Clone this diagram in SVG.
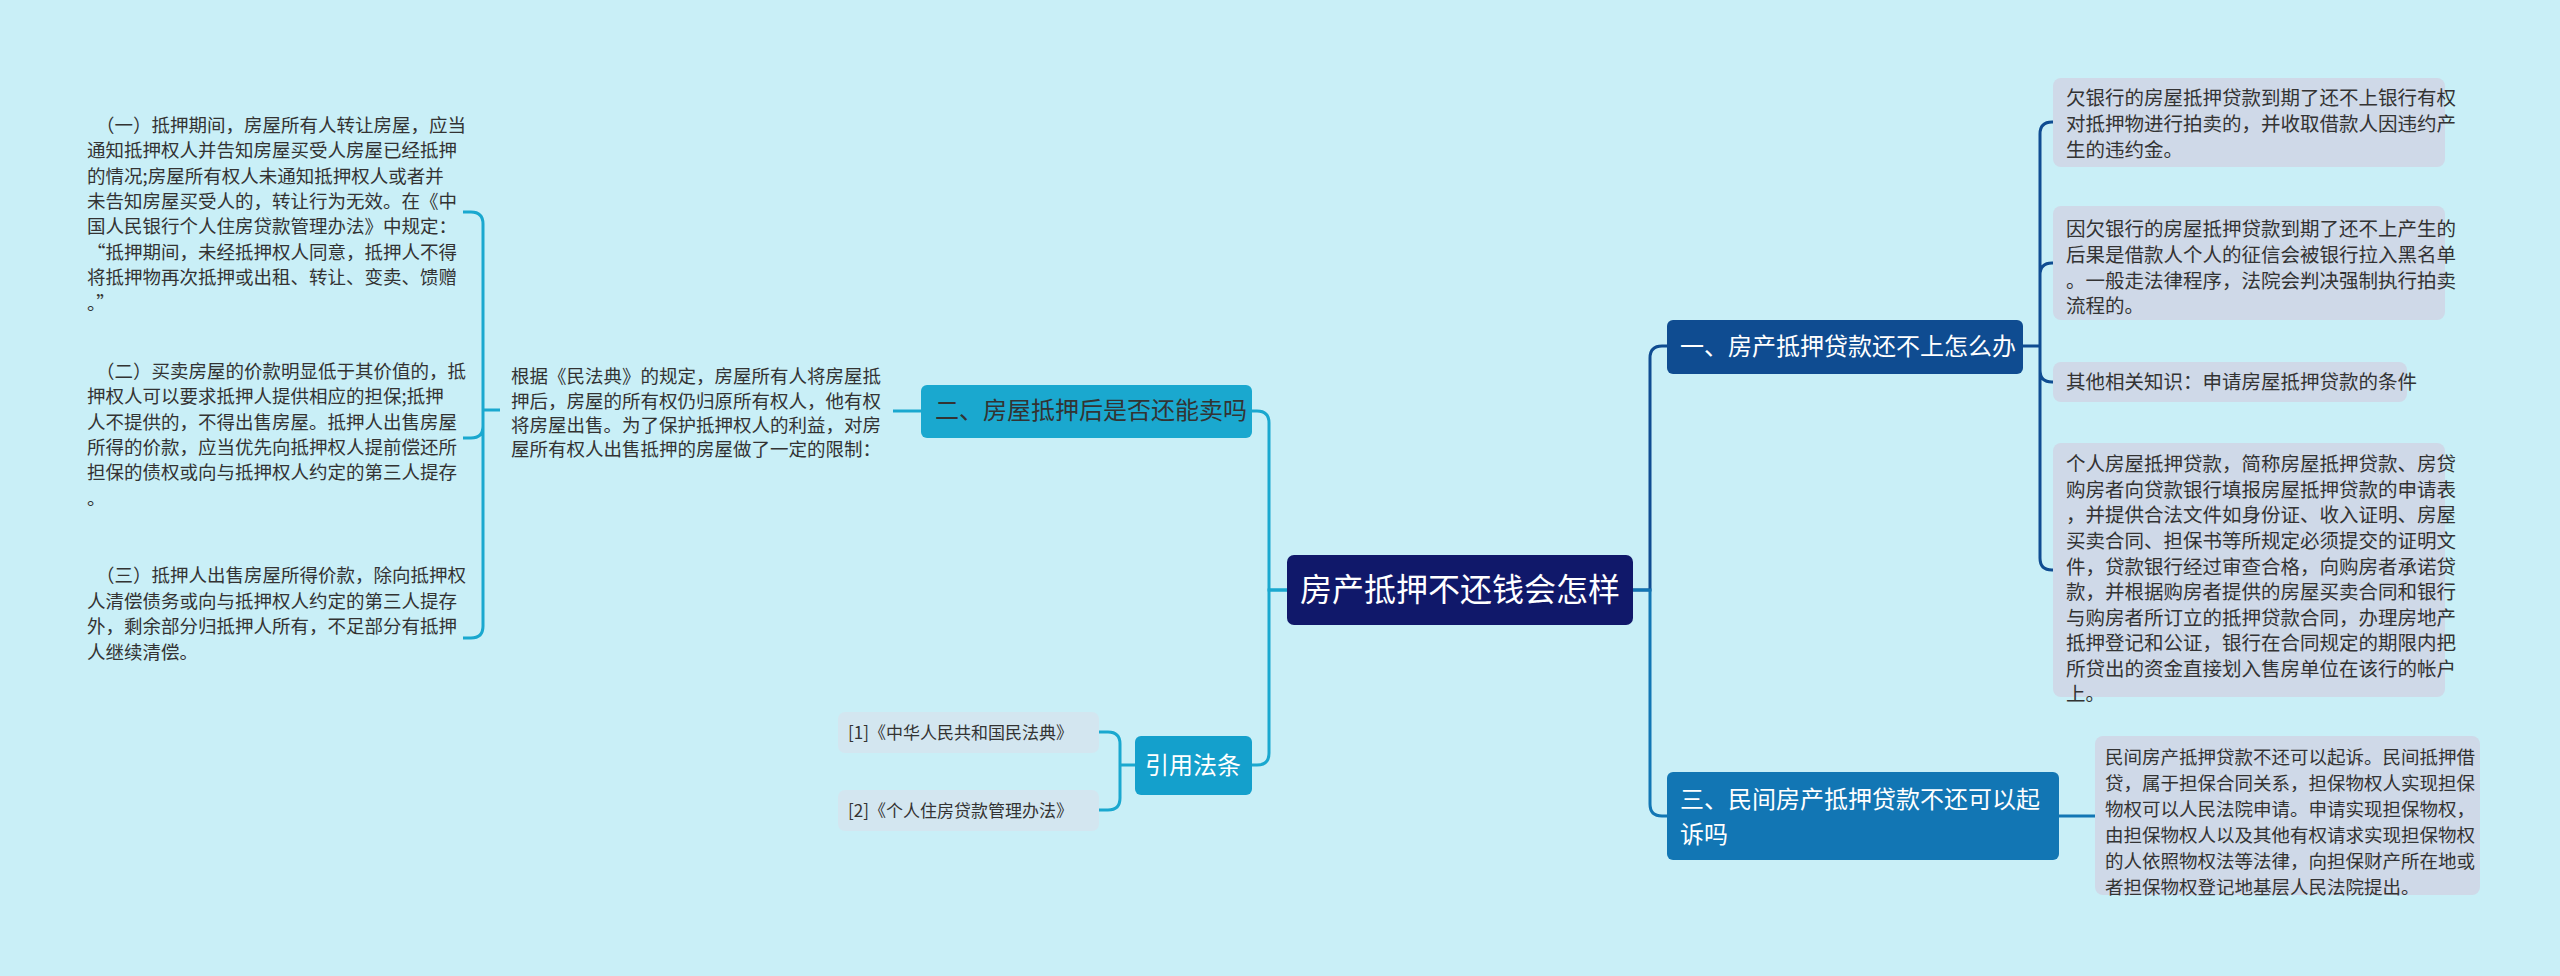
<svg xmlns="http://www.w3.org/2000/svg" width="2560" height="976" viewBox="0 0 2560 976">
<style>
text{font-family:"Noto Sans CJK SC","Noto Sans",sans-serif;fill:#333}
.lf{font-size:18.5px}
.rt{font-size:19.5px}
.w{fill:#fff}
.leaf{fill:#cfd9e8}
.cite{fill:#d3e6f0}
.c{fill:none;stroke-width:3}
</style>
<rect width="2560" height="976" fill="#c9eff7"/>
<g id="connectors">
<path class="c" stroke="#0f4c91" d="M1633 590H1650V358Q1650 346 1662 346H1667"/>
<path class="c" stroke="#1276b4" d="M1633 590H1650V804Q1650 816 1662 816H1667"/>
<path class="c" stroke="#1aa8cf" d="M1287 590H1269V423Q1269 411 1257 411H1252"/>
<path class="c" stroke="#1aa8cf" d="M1287 590H1269V753Q1269 765 1257 765H1252"/>
<path class="c" stroke="#0f4c91" d="M2023 346H2040V134Q2040 122 2052 122H2053M2040 346V275Q2040 263 2052 263H2053M2040 346V370Q2040 382 2052 382H2053M2040 346V558Q2040 570 2052 570H2053"/>
<path class="c" stroke="#1276b4" d="M2059 816H2095"/>
<path class="c" stroke="#1aa8cf" d="M921 411H893"/>
<path class="c" stroke="#1aa8cf" d="M500 410H483V224Q483 212 471 212H463M483 410V426Q483 438 471 438H463M483 410V626Q483 638 471 638H463"/>
<path class="c" stroke="#1aa8cf" d="M1135 765H1120V744Q1120 732 1108 732H1099M1120 765V798Q1120 810 1108 810H1099"/>
</g>
<g id="root"><rect x="1287" y="555" width="346" height="70" rx="7" fill="#10186a"/><text x="1460" y="601" text-anchor="middle" class="w" style="font-size:32px">房产抵押不还钱会怎样</text></g>
<g id="b1"><rect x="1667" y="320" width="356" height="54" rx="6" fill="#0f4c91"/><text x="1680" y="355" class="w" style="font-size:24px">一、房产抵押贷款还不上怎么办</text></g>
<g id="b3"><rect x="1667" y="772" width="392" height="88" rx="6" fill="#1276b4"/><text class="w" style="font-size:24px"><tspan x="1680" y="808">三、民间房产抵押贷款不还可以起</tspan><tspan x="1680" y="843">诉吗</tspan></text></g>
<g id="b2"><rect x="921" y="385" width="331" height="53" rx="6" fill="#1aa8cf"/><text x="935" y="419" style="font-size:24px">二、房屋抵押后是否还能卖吗</text></g>
<g id="cite"><rect x="1135" y="736" width="117" height="59" rx="6" fill="#14a0cc"/><text x="1193" y="774" text-anchor="middle" class="w" style="font-size:24px">引用法条</text></g>
<g id="r1"><rect class="leaf" x="2053" y="78" width="392" height="89" rx="8"/><text class="rt"><tspan x="2066" y="105">欠银行的房屋抵押贷款到期了还不上银行有权</tspan><tspan x="2066" y="131">对抵押物进行拍卖的，并收取借款人因违约产</tspan><tspan x="2066" y="157">生的违约金。</tspan></text></g>
<g id="r2"><rect class="leaf" x="2053" y="206" width="392" height="114" rx="8"/><text class="rt"><tspan x="2066" y="236">因欠银行的房屋抵押贷款到期了还不上产生的</tspan><tspan x="2066" y="262">后果是借款人个人的征信会被银行拉入黑名单</tspan><tspan x="2066" y="288">。一般走法律程序，法院会判决强制执行拍卖</tspan><tspan x="2066" y="313">流程的。</tspan></text></g>
<g id="r3"><rect class="leaf" x="2053" y="362" width="354" height="40" rx="8"/><text class="rt" x="2066" y="389">其他相关知识：申请房屋抵押贷款的条件</text></g>
<g id="r4"><rect class="leaf" x="2053" y="443" width="392" height="254" rx="8"/><text class="rt"><tspan x="2066" y="471">个人房屋抵押贷款，简称房屋抵押贷款、房贷</tspan><tspan x="2066" y="497">购房者向贷款银行填报房屋抵押贷款的申请表</tspan><tspan x="2066" y="522">，并提供合法文件如身份证、收入证明、房屋</tspan><tspan x="2066" y="548">买卖合同、担保书等所规定必须提交的证明文</tspan><tspan x="2066" y="574">件，贷款银行经过审查合格，向购房者承诺贷</tspan><tspan x="2066" y="599">款，并根据购房者提供的房屋买卖合同和银行</tspan><tspan x="2066" y="625">与购房者所订立的抵押贷款合同，办理房地产</tspan><tspan x="2066" y="650">抵押登记和公证，银行在合同规定的期限内把</tspan><tspan x="2066" y="676">所贷出的资金直接划入售房单位在该行的帐户</tspan><tspan x="2066" y="701">上。</tspan></text></g>
<g id="r5"><rect class="leaf" x="2095" y="736" width="385" height="159" rx="8"/><text class="lf"><tspan x="2105" y="764">民间房产抵押贷款不还可以起诉。民间抵押借</tspan><tspan x="2105" y="790">贷，属于担保合同关系，担保物权人实现担保</tspan><tspan x="2105" y="816">物权可以人民法院申请。申请实现担保物权，</tspan><tspan x="2105" y="842">由担保物权人以及其他有权请求实现担保物权</tspan><tspan x="2105" y="868">的人依照物权法等法律，向担保财产所在地或</tspan><tspan x="2105" y="894">者担保物权登记地基层人民法院提出。</tspan></text></g>
<g id="mid"><text class="lf"><tspan x="511" y="383">根据《民法典》的规定，房屋所有人将房屋抵</tspan><tspan x="511" y="408">押后，房屋的所有权仍归原所有权人，他有权</tspan><tspan x="511" y="432">将房屋出售。为了保护抵押权人的利益，对房</tspan><tspan x="511" y="456">屋所有权人出售抵押的房屋做了一定的限制：</tspan></text></g>
<g id="p1"><text class="lf"><tspan x="96" y="132">（一）抵押期间，房屋所有人转让房屋，应当</tspan><tspan x="87" y="157">通知抵押权人并告知房屋买受人房屋已经抵押</tspan><tspan x="87" y="183">的情况;房屋所有权人未通知抵押权人或者并</tspan><tspan x="87" y="208">未告知房屋买受人的，转让行为无效。在《中</tspan><tspan x="87" y="233">国人民银行个人住房贷款管理办法》中规定：</tspan><tspan x="87" y="259">“抵押期间，未经抵押权人同意，抵押人不得</tspan><tspan x="87" y="284">将抵押物再次抵押或出租、转让、变卖、馈赠</tspan><tspan x="87" y="310">。”</tspan></text></g>
<g id="p2"><text class="lf"><tspan x="96" y="378">（二）买卖房屋的价款明显低于其价值的，抵</tspan><tspan x="87" y="403">押权人可以要求抵押人提供相应的担保;抵押</tspan><tspan x="87" y="429">人不提供的，不得出售房屋。抵押人出售房屋</tspan><tspan x="87" y="454">所得的价款，应当优先向抵押权人提前偿还所</tspan><tspan x="87" y="479">担保的债权或向与抵押权人约定的第三人提存</tspan><tspan x="87" y="505">。</tspan></text></g>
<g id="p3"><text class="lf"><tspan x="96" y="582">（三）抵押人出售房屋所得价款，除向抵押权</tspan><tspan x="87" y="608">人清偿债务或向与抵押权人约定的第三人提存</tspan><tspan x="87" y="633">外，剩余部分归抵押人所有，不足部分有抵押</tspan><tspan x="87" y="659">人继续清偿。</tspan></text></g>
<g id="c1"><rect class="cite" x="838" y="712" width="261" height="41" rx="7"/><text x="848" y="739" style="font-size:17px">[1]《中华人民共和国民法典》</text></g>
<g id="c2"><rect class="cite" x="838" y="790" width="261" height="41" rx="7"/><text x="848" y="817" style="font-size:17px">[2]《个人住房贷款管理办法》</text></g>
</svg>
